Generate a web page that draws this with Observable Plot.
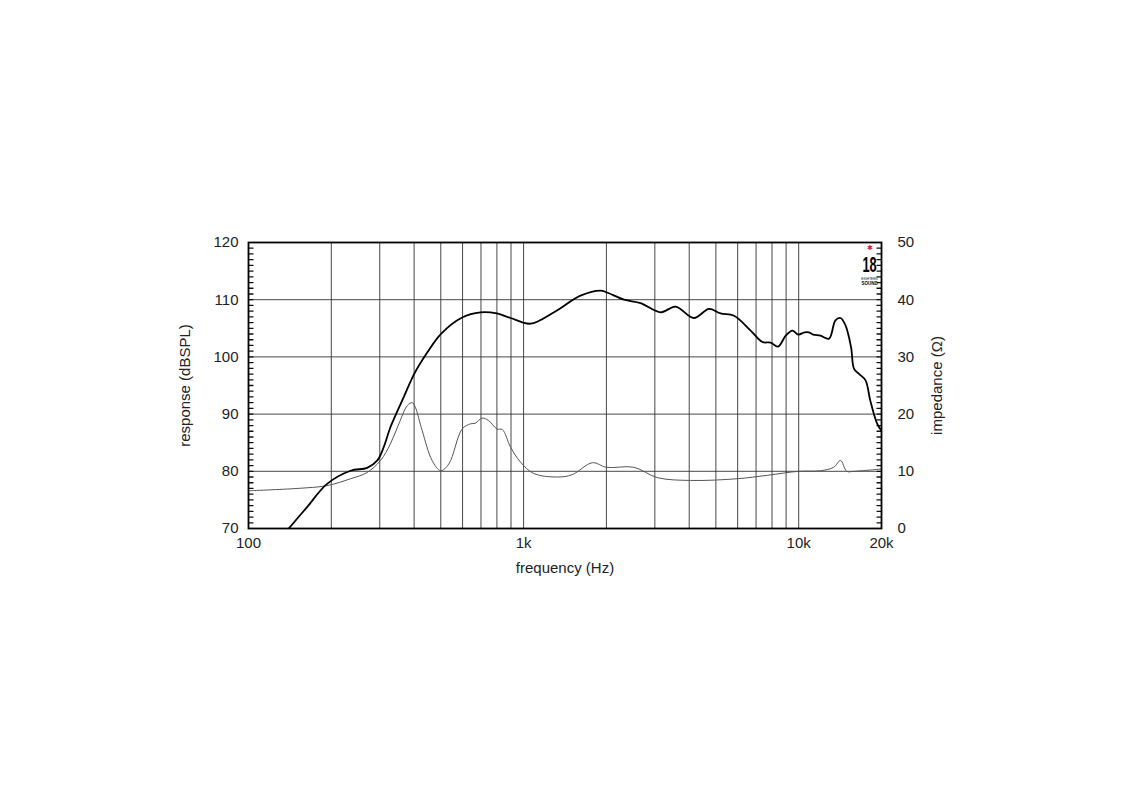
<!DOCTYPE html>
<html><head><meta charset="utf-8">
<script src="https://cdn.jsdelivr.net/npm/d3@7"></script>
<script src="https://cdn.jsdelivr.net/npm/@observablehq/plot@0.6"></script>
<style>body{margin:0;background:#fff} svg{display:block}</style>
</head><body><div id="chart"></div>
<script>
// Frequency response (dB SPL)
const respFreq = [140,163,193,235,270,294,310,328,367,400,447,500,598,697,800,897,1060,1290,1610,1905,2000,2320,2660,3150,3570,4160,4720,5200,5820,6690,7380,7900,8410,8970,9490,9970,10500,10900,11300,12000,12900,13600,14200,14800,15500,15900,16600,17500,18200,19300,20000];
const respDb   = [70,73.7,77.8,80.1,80.6,81.9,84.2,87.7,93.0,97.0,100.8,104.0,106.9,107.8,107.6,106.8,105.8,107.8,110.7,111.6,111.3,110.0,109.4,107.8,108.8,106.8,108.4,107.6,107.2,104.6,102.6,102.5,101.8,103.7,104.6,103.9,104.3,104.3,103.9,103.7,103.2,106.4,106.8,105.5,101.7,97.9,97.0,95.9,92.4,88.3,87.1];
// Impedance (ohm)
const impFreq = [100,150,193,235,270,302,328,352,378,394,404,428,465,500,535,598,641,668,706,745,800,837,897,975,1090,1330,1500,1780,2000,2520,3060,4050,5980,7700,10000,12000,13400,14200,14950,15900,20000];
const impOhm  = [6.6,7.0,7.5,8.7,9.8,11.9,14.8,18.3,21.5,22.0,21.2,17.1,11.9,10.1,11.3,17.4,18.3,18.4,19.3,18.9,17.4,17.3,14.2,11.6,9.6,9.0,9.4,11.5,10.7,10.7,8.9,8.4,8.7,9.3,10.0,10.1,10.7,11.9,10.0,10.0,10.4];
// Axes
const gridFreqs = [200,300,400,500,600,700,800,900,1000,2000,3000,4000,5000,6000,7000,8000,9000,10000];
const xTicks = [100,1000,10000,20000];
const xTickLabels = ["100","1k","10k","20k"];
const dbTicks = [70,80,90,100,110,120];
const dbGrid = [80,90,100,110];
const impBase = 70; // impedance 0..50 ohm shares the 70..120 dB range

const resp = respFreq.map((f,i)=>({f, v: respDb[i]}));
const imp = impFreq.map((f,i)=>({f, v: impOhm[i] + impBase}));
const minor = d3.range(71,120);

function squeeze(k) {
  return (index, scales, values, dims, context, next) => {
    const g = next(index, scales, values, dims, context);
    g.querySelectorAll("text").forEach(t => {
      t.setAttribute("transform", (t.getAttribute("transform") || "") + ` scale(${k},1)`);
    });
    return g;
  };
}
const tickShape = {draw(ctx, l) { ctx.moveTo(0, 0); ctx.lineTo(0, -l); }};

const font = "'Liberation Sans', Arial, Helvetica, sans-serif";
const chart = Plot.plot({
  width: 1143, height: 800,
  marginLeft: 248, marginRight: 262, marginTop: 242, marginBottom: 272,
  style: {fontFamily: font, fontSize: "15px", color: "#222", background: "#fff"},
  x: {type: "log", domain: [100, 20000]},
  y: {domain: [70, 120]},
  marks: [
    Plot.ruleX(gridFreqs, {stroke: "#333", strokeWidth: 0.9}),
    Plot.ruleY(dbGrid, {stroke: "#333", strokeWidth: 0.9}),
    Plot.vector(minor, {y: d => d, frameAnchor: "left", rotate: 90, length: 4.5, anchor: "start", shape: tickShape, stroke: "#111", strokeWidth: 1.3}),
    Plot.vector(minor, {y: d => d, frameAnchor: "right", rotate: -90, length: 4.5, anchor: "start", shape: tickShape, stroke: "#111", strokeWidth: 1.3}),
    Plot.axisY({anchor: "left", ticks: dbTicks, tickSize: 0, tickPadding: 10, fontSize: 15, label: null}),
    Plot.axisY({anchor: "right", ticks: dbTicks, tickSize: 0, tickPadding: 16, fontSize: 15, label: null, tickFormat: d => String(d - impBase)}),
    Plot.axisX({ticks: xTicks, tickSize: 0, tickPadding: 9, fontSize: 15, label: null, tickFormat: d => xTickLabels[xTicks.indexOf(d)]}),
    Plot.text(["frequency (Hz)"], {frameAnchor: "bottom", dy: 44, fontSize: 15, fill: "#222"}),
    Plot.text(["response (dBSPL)"], {frameAnchor: "left", textAnchor: "middle", rotate: -90, dx: -63, fontSize: 15, fill: "#222"}),
    Plot.text(["impedance (Ω)"], {frameAnchor: "right", textAnchor: "middle", rotate: -90, dx: 56, fontSize: 15, fill: "#222"}),
    Plot.line(imp, {x: "f", y: "v", stroke: "#555", strokeWidth: 1, curve: "catmull-rom", clip: true}),
    Plot.line(resp, {x: "f", y: "v", stroke: "#000", strokeWidth: 1.8, curve: "catmull-rom", clip: true}),
    Plot.frame({stroke: "#000", strokeWidth: 1.8}),
    // logo
    Plot.text(["✱"], {frameAnchor: "top-right", textAnchor: "middle", lineAnchor: "middle", dx: -12, dy: 5, fill: "#e02020", fontSize: 7}),
    Plot.text(["18"], {frameAnchor: "top-right", textAnchor: "middle", dx: -12, dy: 14, fill: "#000", fontSize: 22, fontWeight: "bold", render: squeeze(0.58)}),
    Plot.text(["EIGHTEEN"], {frameAnchor: "top-right", textAnchor: "middle", dx: -12, dy: 35, fill: "#000", fontSize: 3.2}),
    Plot.text(["SOUND"], {frameAnchor: "top-right", textAnchor: "middle", dx: -12, dy: 39, fill: "#000", fontSize: 4.5, fontWeight: "bold"})
  ]
});
document.getElementById("chart").append(chart);
</script></body></html>
